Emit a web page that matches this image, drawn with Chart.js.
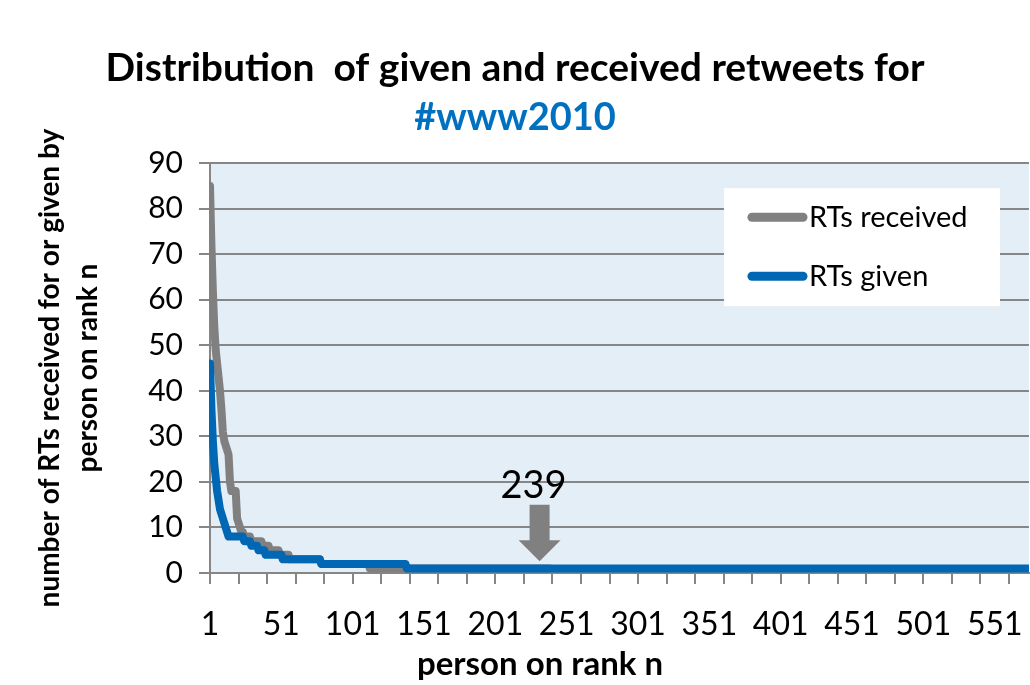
<!DOCTYPE html>
<html>
<head>
<meta charset="utf-8">
<title>Distribution of given and received retweets for #www2010</title>
<script src="https://cdn.jsdelivr.net/npm/chart.js@4.4.1/dist/chart.umd.min.js"></script>
<style>
  html, body { margin: 0; padding: 0; background: #ffffff; overflow: hidden; }
  #wrap { width: 1030px; height: 685px; }
</style>
</head>
<body>
<div id="wrap"><canvas id="rtChart" width="1030" height="685"></canvas></div>
<script>
// ranks where the count changes (line runs straight between them)
const receivedRanks = [1, 2, 3, 4, 5, 6, 7, 8, 9, 10, 11, 12, 13, 14, 15, 16, 19, 20, 21, 22, 23, 24, 25, 29, 30, 37, 38, 42, 43, 49, 50, 56, 57, 78, 79, 112, 113, 239];
const receivedCounts = [85, 72, 62, 54, 49, 46, 43, 40, 36, 31, 29, 28, 27, 26, 20, 18, 18, 12, 11, 10, 9, 9, 8, 8, 7, 7, 6, 6, 5, 5, 4, 4, 3, 3, 2, 2, 1, 1];

const givenRanks = [1, 2, 3, 4, 5, 6, 7, 8, 9, 10, 11, 12, 13, 14, 24, 25, 29, 30, 34, 35, 39, 40, 51, 52, 78, 79, 138, 139, 580];
const givenCounts = [46, 36, 29, 24, 21, 18, 16, 14, 13, 12, 11, 10, 9, 8, 8, 7, 7, 6, 6, 5, 5, 4, 4, 3, 3, 2, 2, 1, 1];

const xLabelRanks = [1, 51, 101, 151, 201, 251, 301, 351, 401, 451, 501, 551];
const xMarkRanks = [1, 21, 41, 61, 81, 101, 121, 141, 161, 181, 201, 221, 241, 261, 281, 301, 321, 341, 361, 381, 401, 421, 441, 461, 481, 501, 521, 541, 561];
const xMaxRank = 575;

const markerRank = 232;
const markerLabel = "239";
const markerTop = 15;
const markerHead = 7.2;
const markerTip = 2.6;

const FONT = "Lato, 'Open Sans', sans-serif";
const GRID = "#868686";
const GRAY = "#808080";
const BLUE = "#0067B4";
const TITLE_BLUE = "#0070C0";
const PLOT_BG = "#E4EEF6";

function toPoints(ranks, counts) {
	return ranks.map((r, i) => ({ x: r, y: counts[i] }));
}

const decorPlugin = {
	id: "rtDecor",
	beforeDraw(chart) {
		const { ctx, chartArea: a } = chart;
		ctx.save();
		ctx.fillStyle = PLOT_BG;
		ctx.fillRect(a.left, a.top, a.right - a.left, a.bottom - a.top);
		ctx.restore();
	},
	afterDraw(chart) {
		const { ctx, chartArea: a } = chart;
		const x = chart.scales.x;
		const y = chart.scales.y;
		ctx.save();

		// arrow with the 239 note
		const ax = x.getPixelForValue(markerRank);
		const yTop = y.getPixelForValue(markerTop);
		const yHead = y.getPixelForValue(markerHead);
		const yTip = y.getPixelForValue(markerTip);
		ctx.fillStyle = GRAY;
		ctx.beginPath();
		ctx.moveTo(ax - 10, yTop);
		ctx.lineTo(ax + 10, yTop);
		ctx.lineTo(ax + 10, yHead);
		ctx.lineTo(ax + 21, yHead);
		ctx.lineTo(ax, yTip);
		ctx.lineTo(ax - 21, yHead);
		ctx.lineTo(ax - 10, yHead);
		ctx.closePath();
		ctx.fill();

		ctx.fillStyle = "#000";
		ctx.font = "38px " + FONT;
		ctx.textAlign = "center";
		ctx.textBaseline = "alphabetic";
		ctx.fillText(markerLabel, ax - 6, yTop - 7);

		// legend box inside the plot
		const boxRight = a.right - 29;
		const boxLeft = boxRight - 276;
		const boxTop = a.top + 25;
		ctx.fillStyle = "#ffffff";
		ctx.fillRect(boxLeft, boxTop, 276, 118);
		ctx.font = "29px " + FONT;
		ctx.textAlign = "left";
		ctx.textBaseline = "middle";
		chart.data.datasets.forEach((ds, i) => {
			const rowY = boxTop + 29 + i * 59;
			ctx.strokeStyle = ds.borderColor;
			ctx.lineWidth = 9;
			ctx.lineCap = "round";
			ctx.beginPath();
			ctx.moveTo(boxLeft + 28, rowY);
			ctx.lineTo(boxLeft + 79, rowY);
			ctx.stroke();
			ctx.fillStyle = "#000";
			ctx.fillText(ds.label, boxLeft + 85, rowY);
		});

		// x axis title
		ctx.font = "bold 33px " + FONT;
		ctx.textAlign = "center";
		ctx.textBaseline = "middle";
		ctx.fillText("person on rank n", 540, 664);

		ctx.restore();
	},
};

const ctx = document.getElementById("rtChart").getContext("2d");

const config = {
	type: "line",
	data: {
		datasets: [
			{
				label: "RTs received",
				data: toPoints(receivedRanks, receivedCounts),
				borderColor: GRAY,
				borderWidth: 8,
				order: 2,
			},
			{
				label: "RTs given",
				data: toPoints(givenRanks, givenCounts),
				borderColor: BLUE,
				borderWidth: 8,
				order: 1,
			},
		],
	},
	options: {
		responsive: false,
		animation: false,
		devicePixelRatio: 1,
		layout: { padding: 0 },
		elements: {
			point: { radius: 0, hoverRadius: 0 },
			line: { tension: 0, fill: false, borderCapStyle: "round", borderJoinStyle: "round" },
		},
		datasets: {
			line: { clip: { left: 1, top: 10, right: 0, bottom: 4 } },
		},
		plugins: {
			legend: { display: false },
			tooltip: { enabled: false },
			title: {
				display: true,
				text: "Distribution  of given and received retweets for",
				color: "#000",
				font: { family: FONT, size: 39, weight: "bold" },
				padding: { top: 44.6, bottom: 0 },
			},
			subtitle: {
				display: true,
				text: "#www2010",
				color: TITLE_BLUE,
				font: { family: FONT, size: 38, weight: "bold" },
				padding: { top: 4, bottom: 22.2 },
			},
		},
		scales: {
			x: {
				type: "linear",
				min: 1,
				max: xMaxRank,
				afterBuildTicks: (scale) => {
					scale.ticks = xMarkRanks.concat(xLabelRanks.filter((r) => !xMarkRanks.includes(r)))
						.sort((p, q) => p - q)
						.map((v) => ({ value: v }));
				},
				afterFit: (scale) => {
					scale.height = 112;
				},
				ticks: {
					autoSkip: false,
					maxRotation: 0,
					color: "#000",
					padding: 21,
					font: { family: FONT, size: 32 },
					callback: (v) => (xLabelRanks.includes(v) ? String(v) : ""),
				},
				grid: {
					drawOnChartArea: false,
					drawTicks: true,
					tickLength: 11,
					lineWidth: 2,
					color: (c) => (c.tick && xMarkRanks.includes(c.tick.value) ? GRID : "rgba(0,0,0,0)"),
				},
				border: { color: GRID, width: 2 },
			},
			y: {
				min: 0,
				max: 90,
				afterFit: (scale) => {
					scale.width = 210;
				},
				ticks: {
					stepSize: 10,
					color: "#000",
					padding: 16,
					font: { family: FONT, size: 30 },
				},
				grid: {
					color: GRID,
					lineWidth: 2,
					tickLength: 11,
				},
				border: { color: GRID, width: 2 },
				title: {
					display: true,
					text: ["number of RTs received for or given by", "person on rank n"],
					color: "#000",
					font: { family: FONT, size: 28, weight: "bold", lineHeight: 1.36 },
					padding: { top: 31, bottom: 0 },
				},
			},
		},
	},
	plugins: [decorPlugin],
};

const rtChart = new Chart(ctx, config);
</script>
</body>
</html>
